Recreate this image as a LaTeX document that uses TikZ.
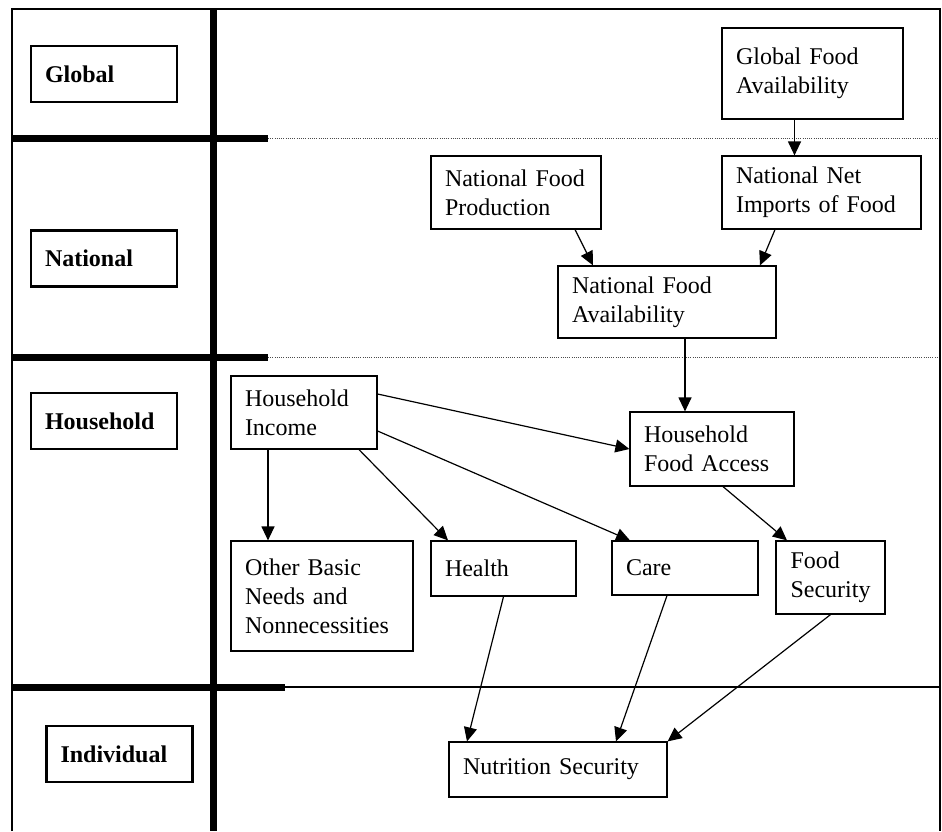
\documentclass[tikz,border=0pt]{standalone}
\usepackage{fontspec}
\setmainfont{Liberation Serif}
\usetikzlibrary{arrows.meta}

\begin{document}
\begin{tikzpicture}[x=0.5pt,y=-0.5pt,
    box/.style={draw,line width=0.6pt,align=left,inner xsep=7pt,inner ysep=0pt,
        font=\fontsize{12}{14.5}\selectfont},
    level/.style={box,line width=1.1pt,font=\fontsize{12}{14.5}\selectfont\bfseries,
        text width=59pt,minimum height=28pt},
    arr/.style={-{Triangle[length=7pt,width=6.5pt]},line width=0.6pt},
    bar/.style={line width=3.5pt},
    sep/.style={line width=0.5pt,black!70,dash pattern=on 0.5pt off 0.6pt}]
    \useasboundingbox (0,0) rectangle (942,831);

    \draw[bar] (213,9) -- (213,831);
    \draw[bar] (12,138) -- (268,138);
    \draw[bar] (12,357) -- (268,357);
    \draw[bar] (12,687) -- (285,687);
    \draw[sep] (268,138) -- (940,138);
    \draw[sep] (268,357) -- (940,357);
    \draw[line width=0.7pt] (285,687) -- (940,687);
    \draw[line width=1pt] (12,831) -- (12,9) -- (940,9) -- (940,831);

    \node[level] (global) at (104,74) {Global};
    \node[level] (national) at (104,258.5) {National};
    \node[level] (household) at (104,421) {Household};
    \node[level] (individual) at (119.5,754) {Individual};

    \node[box,text width=76.5pt,minimum height=45.5pt] (gfa) at (812.5,73.5) {Global Food\\Availability};
    \node[box,text width=71pt,minimum height=36.5pt] (nfp) at (516,192.5) {National Food\\Production};
    \node[box,text width=85.5pt,minimum height=36.5pt] (nni) at (821.5,192.5) {National Net\\Imports of Food};
    \node[box,text width=95pt,minimum height=36pt] (nfa) at (667,302) {National Food\\Availability};
    \node[box,text width=68pt,minimum height=37pt] (hfa) at (712,449) {Household\\Food Access};
    \node[box,text width=59pt,minimum height=36.5pt] (inc) at (304,412.5) {Household\\Income};
    \node[box,text width=77pt,minimum height=55pt] (obn) at (322,596) {Other Basic\\Needs and\\Nonnecessities};
    \node[box,text width=58.5pt,minimum height=27.5pt] (health) at (503.5,568.5) {Health};
    \node[box,text width=59pt,minimum height=27pt] (care) at (685,568) {Care};
    \node[box,text width=40pt,inner xsep=7.25pt,minimum height=36.5pt] (fs) at (830.5,577.5) {Food\\Security};
    \node[box,text width=95pt,minimum height=27.5pt] (ns) at (558,769.5) {Nutrition Security};

    \draw[arr] ([xshift=-9pt]gfa.south) -- ([xshift=-9pt]gfa.south |- nni.north);
    \draw[arr] ([xshift=29.5pt]nfp.south) -- ([xshift=-37pt]nfa.north);
    \draw[arr] ([xshift=-23.25pt]nni.south) -- ([xshift=46.5pt]nfa.north);
    \draw[arr] ([xshift=9pt]nfa.south) -- ([xshift=9pt]nfa.south |- hfa.north);
    \draw[arr] ([yshift=9.25pt]inc.east) -- (hfa.west);
    \draw[arr] ([yshift=-9.25pt]inc.east) -- ([xshift=-27.5pt]care.north);
    \draw[arr] ([xshift=-18pt]inc.south) -- ([xshift=-18pt]inc.south |- obn.north);
    \draw[arr] ([xshift=27.5pt]inc.south) -- ([xshift=-27.75pt]health.north);
    \draw[arr] ([xshift=5.5pt]hfa.south) -- ([xshift=-21.75pt]fs.north);
    \draw[arr] (health.south) -- ([xshift=-45.5pt]ns.north);
    \draw[arr] ([xshift=-9pt]care.south) -- ([xshift=29pt]ns.north);
    \draw[arr] (fs.south) -- (ns.north east);
\end{tikzpicture}
\end{document}
